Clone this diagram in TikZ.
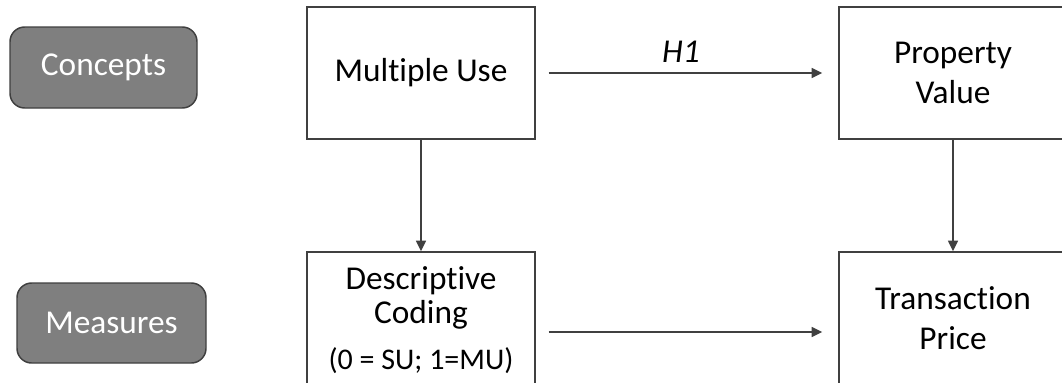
\documentclass[tikz,border=0pt]{standalone}
\usepackage{fontspec}
\setmainfont{Carlito}[Ligatures=NoCommon]
\usetikzlibrary{arrows.meta}
\definecolor{boxline}{HTML}{404040}
\definecolor{tagfill}{HTML}{7F7F7F}
\definecolor{tagline}{HTML}{3F3F3F}
\begin{document}
\begin{tikzpicture}[x=0.75pt,y=-0.75pt,
  every node/.style={font=\fontsize{25}{30}\selectfont},
  concept/.style={draw=boxline, line width=1.1pt, minimum width=171pt, minimum height=99pt, align=center, inner sep=0pt, text=black},
  tag/.style={draw=tagline, fill=tagfill, line width=1.1pt, rounded corners=11pt, text=white, inner sep=0pt},
  link/.style={draw=boxline, line width=1.1pt, -{Triangle[length=8pt,width=7.5pt]}}
]
\clip (0,0) rectangle (1062,382);
\node[tag, minimum width=140.25pt, minimum height=60.75pt] (concepts) at (103.5,67.5) {Concepts};
\node[tag, minimum width=141.75pt, minimum height=60pt] (measures) at (111.5,323) {Measures};
\node[concept] (mu) at (421,73) {Multiple Use};
\node[concept, font=\fontsize{25}{30}\selectfont] (pv) at (953,73) {Property\\Value};
\node[concept, font=\fontsize{25}{25.5}\selectfont] (dc) at (421,318) {\rule{0pt}{20pt}Descriptive\\Coding\\[9pt]{\fontsize{22.5}{26}\selectfont (0 = SU; 1=MU)}};
\node[concept, font=\fontsize{25}{30.5}\selectfont] (tp) at (953,318) {Transaction\\Price};
\draw[link, shorten <=9.75pt, shorten >=12pt] (mu) -- node[pos=0.48, above=7.5pt, inner sep=0pt, font=\fontsize{25}{30}\selectfont\itshape] (h1) {H1} (pv);
\draw[link] (mu) -- (dc);
\draw[link] (pv) -- (tp);
\draw[link, shorten <=9.75pt, shorten >=12pt] (dc.east |- 0,332) -- (tp.west |- 0,332);
\end{tikzpicture}
\end{document}
